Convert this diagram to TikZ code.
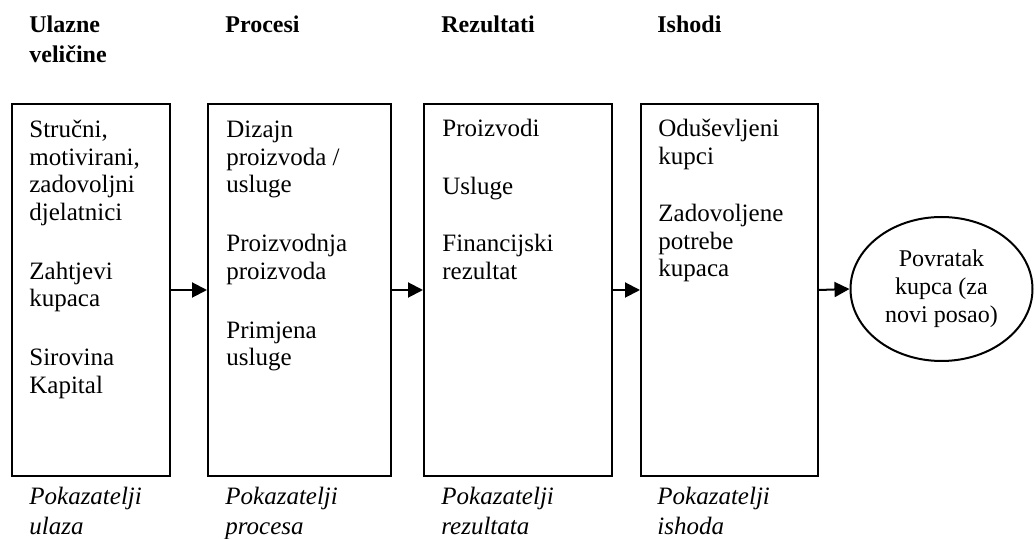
\documentclass[tikz,border=0pt]{standalone}
\usepackage{fontspec}
\setmainfont{Liberation Serif}
\usetikzlibrary{arrows.meta,shapes.geometric}
\newcommand\mylines[1]{\parbox[t]{110pt}{\raggedright #1}}
\begin{document}
\begin{tikzpicture}[x=0.5pt,y=-0.5pt,
  box/.style={draw, line width=1pt, inner sep=0pt, minimum height=186pt},
  arr/.style={line width=1pt, -{Triangle[length=7.5pt,width=7.5pt]}},
  txt/.style={anchor=base west, inner sep=0pt, font=\fontsize{12.5}{13.75}\selectfont},
  head/.style={anchor=base west, inner sep=0pt, font=\fontsize{12}{15}\selectfont\bfseries},
  foot/.style={anchor=base west, inner sep=0pt, font=\fontsize{12.5}{15}\selectfont\itshape},
  ret/.style={ellipse, draw, line width=1pt, inner sep=0pt, minimum width=91pt, minimum height=72pt, align=center, font=\fontsize{12}{14}\selectfont}]
\useasboundingbox (0,0) rectangle (1035,539);
% headings
\node[head] (h1) at (29,33) {\mylines{Ulazne\\veličine}};
\node[head] (h2) at (225,33) {\mylines{Procesi}};
\node[head] (h3) at (441,33) {\mylines{Rezultati}};
\node[head] (h4) at (657,33) {\mylines{Ishodi}};
% boxes
\node[box, minimum width=79pt] (b1) at (91,290) {};
\node[box, minimum width=91.5pt] (b2) at (299.5,290) {};
\node[box, minimum width=94pt] (b3) at (518,290) {};
\node[box, minimum width=88.5pt] (b4) at (729.5,290) {};
\node[ret] (e) at (941.5,289) {Povratak\\kupca (za\\novi posao)};
% box texts
\node[txt] (t1) at (29,138) {\mylines{Stručni,\\motivirani,\\zadovoljni\\djelatnici\\[15.75pt]Zahtjevi\\kupaca\\[15.75pt]Sirovina\\Kapital}};
\node[txt] (t2) at (226,138) {\mylines{Dizajn\\proizvoda /\\usluge\\[15.75pt]Proizvodnja\\proizvoda\\[15.75pt]Primjena\\usluge}};
\node[txt] (t3) at (442,137) {\mylines{Proizvodi\\[15pt]Usluge\\[15pt]Financijski\\rezultat}};
\node[txt] (t4) at (658,137) {\mylines{Oduševljeni\\kupci\\[15pt]Zadovoljene\\potrebe\\kupaca}};
% footers
\node[foot] (f1) at (29,505) {\mylines{Pokazatelji\\ulaza}};
\node[foot] (f2) at (225,505) {\mylines{Pokazatelji\\procesa}};
\node[foot] (f3) at (441,505) {\mylines{Pokazatelji\\rezultata}};
\node[foot] (f4) at (657,505) {\mylines{Pokazatelji\\ishoda}};
% arrows
\draw[arr] (b1.east) -- (b2.west);
\draw[arr] (b2.east) -- (b3.west);
\draw[arr] (b3.east) -- (b4.west);
\draw[arr] (b4.east) -- (e.west);
\end{tikzpicture}
\end{document}
